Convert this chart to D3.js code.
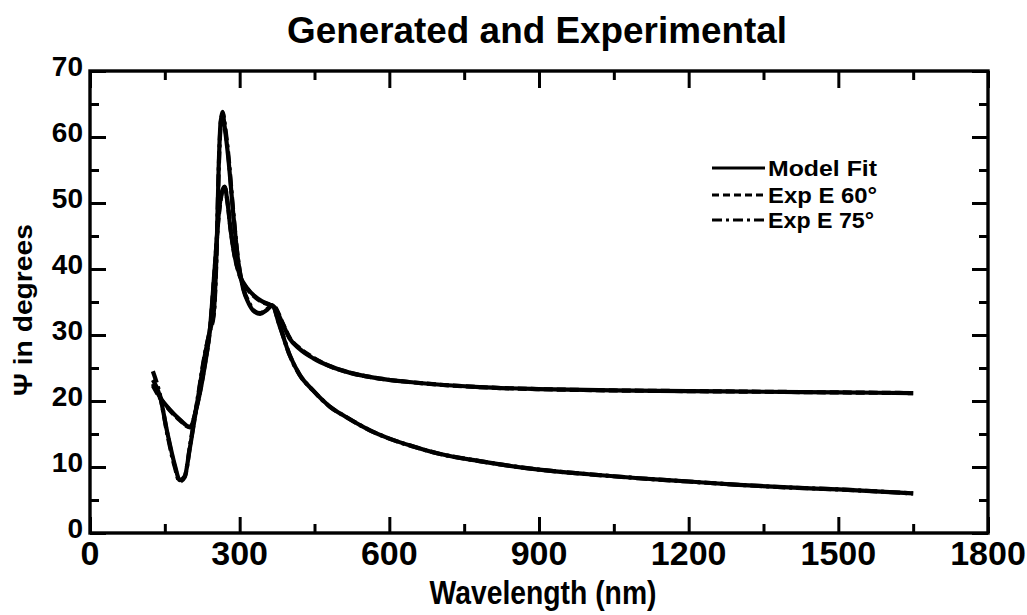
<!DOCTYPE html>
<html>
<head>
<meta charset="utf-8">
<script src="https://cdn.jsdelivr.net/npm/d3@7"></script>
<style>
  html, body { margin: 0; padding: 0; background: #fff; }
  svg { display: block; }
</style>
</head>
<body>
<svg id="chart" width="1027" height="615"></svg>
<script>
// ---------------- data ----------------
const chartTitle = "Generated and Experimental";
const xLabel = "Wavelength (nm)";
const yLabel = "\u03A8 in degrees";

const xTickValues = [0, 300, 600, 900, 1200, 1500, 1800];
const xTickLabels = ["0", "300", "600", "900", "1200", "1500", "1800"];
const yTickValues = [0, 10, 20, 30, 40, 50, 60, 70];
const yTickLabels = ["0", "10", "20", "30", "40", "50", "60", "70"];

const legendNames = ["Model Fit", "Exp E 60\u00B0", "Exp E 75\u00B0"];

// Exp E 60° (upper tail)
const lam60 = [126, 140, 160, 180, 200, 215, 230, 240, 250, 258, 264, 270, 276, 282, 290, 300, 315, 330, 345, 360, 370, 385, 400, 420, 447, 480, 520, 581, 650, 781, 900, 1050, 1200, 1350, 1500, 1650];
const psi60 = [22.3, 20.5, 18.6, 17.1, 16.0, 19.5, 25.5, 30.5, 40.0, 48.0, 51.4, 52.5, 50.0, 46.0, 42.0, 39.0, 37.0, 35.8, 35.0, 34.6, 34.3, 32.0, 29.6, 28.0, 26.6, 25.3, 24.3, 23.4, 22.8, 22.1, 21.8, 21.6, 21.5, 21.4, 21.3, 21.2];

// Exp E 75° (lower tail)
const lam75 = [126, 140, 155, 170, 180, 190, 200, 215, 230, 240, 248, 254, 258, 262, 266, 270, 277, 287, 297, 307, 318, 330, 341, 353, 365, 380, 400, 420, 447, 480, 515, 560, 600, 648, 700, 781, 900, 1000, 1100, 1200, 1300, 1400, 1500, 1650];
const psi75 = [24.5, 21.0, 15.0, 10.0, 7.8, 8.5, 13.0, 20.0, 27.0, 30.5, 33.0, 43.0, 55.0, 62.0, 63.8, 62.0, 57.5, 48.8, 41.3, 37.2, 35.0, 33.6, 33.3, 33.8, 34.5, 31.5, 27.0, 24.0, 21.6, 19.2, 17.5, 15.6, 14.3, 13.1, 12.0, 10.9, 9.6, 8.9, 8.3, 7.8, 7.3, 6.9, 6.6, 6.0];

// Model Fit (both angles)
const lamFit60 = [126, 140, 160, 180, 200, 215, 230, 240, 250, 258, 264, 270, 276, 282, 290, 300, 315, 330, 345, 360, 370, 385, 400, 420, 447, 480, 520, 581, 650, 781, 900, 1050, 1200, 1350, 1500, 1650];
const psiFit60 = [22.6, 20.6, 18.7, 17.2, 16.1, 19.4, 25.3, 30.6, 40.2, 48.3, 51.6, 52.4, 49.8, 45.8, 41.9, 39.1, 37.1, 35.9, 35.1, 34.6, 34.2, 31.9, 29.5, 27.9, 26.5, 25.3, 24.3, 23.4, 22.8, 22.1, 21.8, 21.6, 21.5, 21.4, 21.3, 21.2];
const lamFit75 = [126, 140, 155, 170, 180, 190, 200, 215, 230, 240, 248, 254, 258, 262, 266, 270, 277, 287, 297, 307, 318, 330, 341, 353, 365, 380, 400, 420, 447, 480, 515, 560, 600, 648, 700, 781, 900, 1000, 1100, 1200, 1300, 1400, 1500, 1650];
const psiFit75 = [23.2, 20.8, 15.2, 10.3, 8.0, 8.6, 12.8, 19.8, 26.8, 30.6, 33.4, 43.5, 55.5, 62.4, 63.5, 61.5, 57.0, 48.5, 41.2, 37.0, 34.8, 33.5, 33.2, 33.7, 34.4, 31.4, 27.0, 24.0, 21.6, 19.2, 17.5, 15.6, 14.3, 13.1, 12.0, 10.9, 9.6, 8.9, 8.3, 7.8, 7.3, 6.9, 6.6, 6.0];

// ---------------- layout ----------------
const svg = d3.select("#chart");
const L = 90, R = 988, T = 71, B = 533;

const x = d3.scaleLinear().domain([0, 1800]).range([L, R]);
const y = d3.scaleLinear().domain([0, 70]).range([B, T]);

const ink = "#000";

// minor ticks
const xMinor = d3.range(150, 1800, 300);
const yMinor = d3.range(5, 70, 10);

function styleAxis(g) {
  g.select(".domain").remove();
  g.selectAll(".tick line").attr("stroke", ink).attr("stroke-width", 3);
}

// bottom axis (inward ticks)
svg.append("g").attr("transform", `translate(0,${B})`)
  .call(d3.axisBottom(x).tickValues(xTickValues).tickSize(-16).tickFormat(""))
  .call(styleAxis);
svg.append("g").attr("transform", `translate(0,${B})`)
  .call(d3.axisBottom(x).tickValues(xMinor).tickSize(-9).tickFormat(""))
  .call(styleAxis);
// top axis
svg.append("g").attr("transform", `translate(0,${T})`)
  .call(d3.axisTop(x).tickValues(xTickValues).tickSize(-17).tickFormat(""))
  .call(styleAxis);
svg.append("g").attr("transform", `translate(0,${T})`)
  .call(d3.axisTop(x).tickValues(xMinor).tickSize(-9).tickFormat(""))
  .call(styleAxis);
// left axis
svg.append("g").attr("transform", `translate(${L},0)`)
  .call(d3.axisLeft(y).tickValues(yTickValues).tickSize(-16).tickFormat(""))
  .call(styleAxis);
svg.append("g").attr("transform", `translate(${L},0)`)
  .call(d3.axisLeft(y).tickValues(yMinor).tickSize(-9).tickFormat(""))
  .call(styleAxis);
// right axis
svg.append("g").attr("transform", `translate(${R},0)`)
  .call(d3.axisRight(y).tickValues(yTickValues).tickSize(-16).tickFormat(""))
  .call(styleAxis);
svg.append("g").attr("transform", `translate(${R},0)`)
  .call(d3.axisRight(y).tickValues(yMinor).tickSize(-9).tickFormat(""))
  .call(styleAxis);

// frame
svg.append("rect")
  .attr("x", L).attr("y", T).attr("width", R - L).attr("height", B - T)
  .attr("fill", "none").attr("stroke", ink).attr("stroke-width", 3.4);

// tick labels
svg.append("g").selectAll("text").data(xTickValues).join("text")
  .attr("x", d => x(d))
  .attr("y", 565)
  .attr("text-anchor", "middle")
  .attr("font-family", "'Liberation Sans Narrow', 'Arial Narrow', 'Liberation Sans', sans-serif")
  .attr("font-weight", "bold")
  .attr("font-size", 34)
  .attr("fill", ink)
  .text((d, i) => xTickLabels[i]);

svg.append("g").selectAll("text").data(yTickValues).join("text")
  .attr("x", 83)
  .attr("y", d => y(d) + 5)
  .attr("text-anchor", "end")
  .attr("font-family", "'Liberation Sans', Arial, sans-serif")
  .attr("font-weight", "bold")
  .attr("font-size", 28)
  .attr("fill", ink)
  .text((d, i) => yTickLabels[i]);

// title
svg.append("text")
  .attr("x", 537).attr("y", 43)
  .attr("text-anchor", "middle")
  .attr("font-family", "'Liberation Sans', Arial, sans-serif")
  .attr("font-weight", "bold")
  .attr("font-size", 37)
  .attr("textLength", 500)
  .attr("lengthAdjust", "spacingAndGlyphs")
  .attr("fill", ink)
  .text(chartTitle);

// axis labels
svg.append("text")
  .attr("x", 543).attr("y", 604)
  .attr("text-anchor", "middle")
  .attr("font-family", "'Liberation Sans Narrow', 'Arial Narrow', 'Liberation Sans', sans-serif")
  .attr("font-weight", "bold")
  .attr("font-size", 33)
  .attr("textLength", 227)
  .attr("lengthAdjust", "spacingAndGlyphs")
  .attr("fill", ink)
  .text(xLabel);

svg.append("text")
  .attr("transform", "translate(32,310) rotate(-90)")
  .attr("text-anchor", "middle")
  .attr("font-family", "'Liberation Sans', Arial, sans-serif")
  .attr("font-weight", "bold")
  .attr("font-size", 25)
  .attr("textLength", 172)
  .attr("lengthAdjust", "spacingAndGlyphs")
  .attr("fill", ink)
  .text(yLabel);

// curves
const line = d3.line().x(d => x(d[0])).y(d => y(d[1])).curve(d3.curveMonotoneX);
function pts(lam, psi) { return lam.map((l, i) => [l, psi[i]]); }

const curves = [
  { data: pts(lamFit60, psiFit60), dash: null },
  { data: pts(lamFit75, psiFit75), dash: null },
  { data: pts(lam60, psi60), dash: "9,4" },
  { data: pts(lam75, psi75), dash: "12,4,3,4" }
];
svg.append("g").selectAll("path").data(curves).join("path")
  .attr("d", d => line(d.data))
  .attr("fill", "none")
  .attr("stroke", ink)
  .attr("stroke-width", 4.2)
  .attr("stroke-linejoin", "round")
  .attr("stroke-dasharray", d => d.dash);

// legend
const legendDash = [null, "7,4", "10,4,3,4"];
const legendY = [168, 195, 220];
const lg = svg.append("g");
legendNames.forEach((name, i) => {
  lg.append("line")
    .attr("x1", 712).attr("x2", 765)
    .attr("y1", legendY[i]).attr("y2", legendY[i])
    .attr("stroke", ink).attr("stroke-width", 3.2)
    .attr("stroke-dasharray", legendDash[i]);
  lg.append("text")
    .attr("x", 768).attr("y", legendY[i] + 8)
    .attr("font-family", "'Liberation Sans', Arial, sans-serif")
    .attr("font-weight", "bold")
    .attr("font-size", 22)
    .attr("textLength", i === 2 ? 106 : 109)
    .attr("lengthAdjust", "spacingAndGlyphs")
    .attr("fill", ink)
    .text(name);
});
</script>
</body>
</html>
